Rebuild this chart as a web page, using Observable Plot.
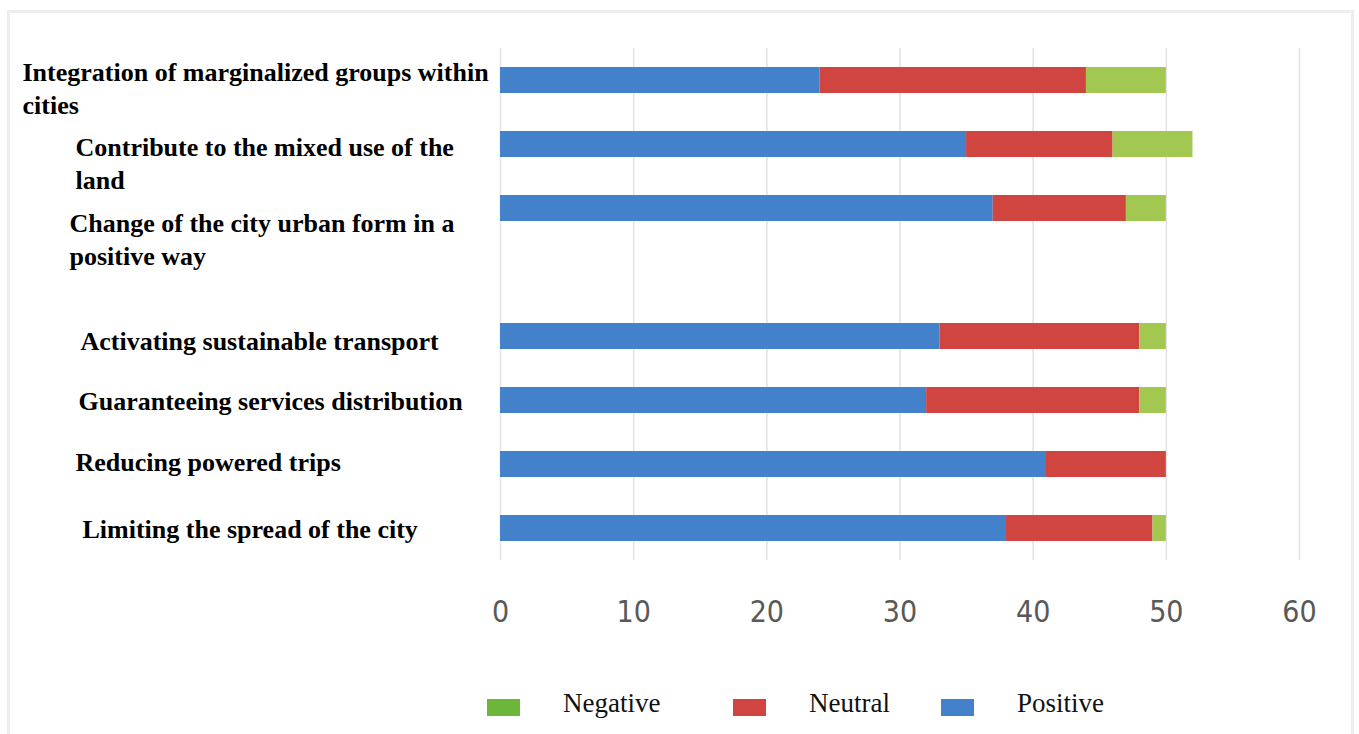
<!DOCTYPE html>
<html>
<head>
<meta charset="utf-8">
<script src="https://cdn.jsdelivr.net/npm/d3@7"></script>
<script src="https://cdn.jsdelivr.net/npm/@observablehq/plot@0.6"></script>
<style>
  html, body { margin: 0; padding: 0; background: #ffffff; }
  #chart { position: relative; width: 1359px; height: 734px; overflow: hidden; background: #ffffff; }
  #frame { position: absolute; left: 7px; top: 10px; width: 1347px; height: 780px;
           border: 3px solid #eeeeee; box-sizing: border-box; pointer-events: none; }
  #plot { position: absolute; left: 0; top: 0; }
  #legend { position: absolute; left: 487px; top: 688px; display: flex; align-items: center;
            font-family: "Liberation Serif", "Times New Roman", serif; font-size: 27px; color: #111; }
  .item { display: flex; align-items: center; }
  .swatch { width: 33px; height: 17px; margin-right: 43px; margin-top: 8px; }
</style>
</head>
<body>
<div id="chart">
  <div id="frame"></div>
  <div id="plot"></div>
  <div id="legend"></div>
</div>
<script>
// Survey statements (top to bottom) and the number of answers of each kind
const statements = [
  "Integration of marginalized groups within\ncities",
  "Contribute to the mixed use of the\nland",
  "Change of the city urban form in a\npositive way",
  "Activating sustainable transport",
  "Guaranteeing services distribution",
  "Reducing powered trips",
  "Limiting the spread of the city"
];
const positive = [24, 35, 37, 33, 32, 41, 38];
const neutral  = [20, 11, 10, 15, 16,  9, 11];
const negative = [ 6,  6,  3,  2,  2,  0,  1];

const responses = ["Negative", "Neutral", "Positive"];
const stackOrder = ["Positive", "Neutral", "Negative"];
const xTicks = [0, 10, 20, 30, 40, 50, 60];

// Colours: bar fills and the (slightly different) legend swatches
const barColors = ["#a2c852", "#d0453f", "#4381cb"];
const swatchColors = ["#6db63c", "#d0453f", "#4381cb"];

// Empty row separating the first three statements from the rest
const gap = " ";
const rowOrder = [...statements.slice(0, 3), gap, ...statements.slice(3)];

// Category label placement: left indent (px from the page edge) and vertical nudge
const labelIndent = [22, 75, 69, 80, 78, 75, 82];
const labelNudge  = [6, 17, 29, 2.5, -1.5, -4.5, -1.5];

const rows = statements.flatMap((s, i) => [
  {statement: s, response: "Positive", count: positive[i]},
  {statement: s, response: "Neutral",  count: neutral[i]},
  {statement: s, response: "Negative", count: negative[i]}
]);

const marginLeft = 500;
const serif = "'Liberation Serif', 'Times New Roman', serif";

const labelMarks = statements.map((s, i) =>
  Plot.text([s], {
    y: d => d,
    text: d => d,
    frameAnchor: "left",
    textAnchor: "start",
    lineAnchor: "middle",
    lineHeight: 1.27,
    dx: labelIndent[i] - marginLeft,
    dy: labelNudge[i],
    fontSize: 26,
    fontWeight: "bold",
    fontFamily: serif,
    fill: "#000000"
  })
);

const chart = Plot.plot({
  width: 1359,
  height: 670,
  marginLeft,
  marginRight: 60,
  marginTop: 48,
  marginBottom: 110,
  style: {background: "transparent", overflow: "visible"},
  x: {domain: [0, 60]},
  y: {domain: rowOrder, paddingInner: 0.6, paddingOuter: 0.3, axis: null},
  color: {domain: responses, range: barColors},
  marks: [
    Plot.gridX({ticks: xTicks, stroke: "#e2e2e2", strokeOpacity: 1, strokeWidth: 1.5}),
    Plot.barX(rows, Plot.stackX({
      x: "count",
      y: "statement",
      fill: "response",
      order: stackOrder
    })),
    Plot.axisX({
      ticks: xTicks,
      tickSize: 0,
      tickPadding: 40,
      label: null,
      fontSize: 30,
      fontFamily: "'Liberation Sans Narrow', 'DejaVu Sans Condensed', 'Open Sans', sans-serif",
      color: "#595959"
    }),
    ...labelMarks
  ]
});
document.getElementById("plot").appendChild(chart);

// Legend below the chart
const itemWidths = [246, 208, null];
const legend = d3.select("#legend");
responses.forEach((r, i) => {
  const item = legend.append("div").attr("class", "item");
  if (itemWidths[i]) item.style("width", itemWidths[i] + "px");
  item.append("div").attr("class", "swatch").style("background", swatchColors[i]);
  item.append("span").text(r);
});
</script>
</body>
</html>
